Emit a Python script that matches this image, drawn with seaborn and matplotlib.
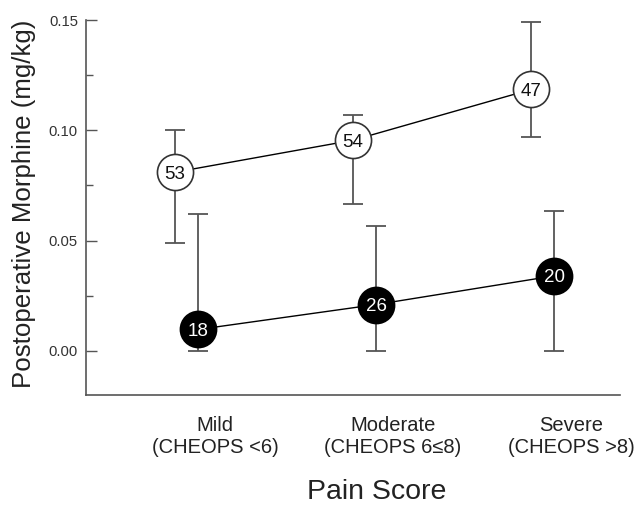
import matplotlib
matplotlib.use("Agg")
import matplotlib.pyplot as plt
import numpy as np
import pandas as pd
import seaborn as sns
from matplotlib.ticker import MultipleLocator

# Pain score categories
categories = ["Mild", "Moderate", "Severe"]
tick_labels = ["Mild\n(CHEOPS <6)", "Moderate\n(CHEOPS 6\u22648)", "Severe\n(CHEOPS >8)"]

# Open-circle group
open_mean = [0.081, 0.0955, 0.1185]
open_upper = [0.100, 0.107, 0.149]
open_lower = [0.049, 0.0667, 0.097]
open_n = [53, 54, 47]

# Filled-circle group
filled_mean = [0.0097, 0.021, 0.034]
filled_upper = [0.062, 0.0567, 0.0636]
filled_lower = [0.0, 0.0, 0.0]
filled_n = [18, 26, 20]

sns.set_theme(style="ticks")
plt.rcParams["font.family"] = ["Liberation Sans", "DejaVu Sans"]

GRAY = "#555555"
TEXT = "#222222"

pos = np.arange(len(categories))
shift = 0.0646

df = pd.concat([
    pd.DataFrame({"x": pos - shift, "y": open_mean, "lo": open_lower,
                  "hi": open_upper, "n": open_n, "group": "open"}),
    pd.DataFrame({"x": pos + shift, "y": filled_mean, "lo": filled_lower,
                  "hi": filled_upper, "n": filled_n, "group": "filled"}),
], ignore_index=True)

fig = plt.figure(figsize=(6.42, 5.08), dpi=100)
ax = fig.add_axes([86 / 642, 1 - 395 / 508, 534 / 642, 375 / 508])

styles = {"open": dict(face="white", edge="#333333", txt="#111111"),
          "filled": dict(face="black", edge="black", txt="white")}

for g, sub in df.groupby("group", sort=False):
    st = styles[g]
    # asymmetric error bars
    ax.errorbar(sub["x"], sub["y"],
                yerr=[sub["y"] - sub["lo"], sub["hi"] - sub["y"]],
                fmt="none", ecolor=GRAY, elinewidth=1.3, capsize=7.5,
                capthick=1.3, zorder=1)
    sns.lineplot(data=sub, x="x", y="y", ax=ax, color="black", linewidth=1.0,
                 sort=False, zorder=2, legend=False)
    sns.scatterplot(data=sub, x="x", y="y", ax=ax, s=26 ** 2, color=st["face"],
                    edgecolor=st["edge"], linewidth=1.2, zorder=3, legend=False)
    for _, r in sub.iterrows():
        ax.text(r["x"], r["y"], f"{int(r['n'])}", ha="center", va="center_baseline",
                fontsize=13.5, color=st["txt"], zorder=4)

ax.set_xlim(-0.5646, 2.435)
ax.set_ylim(-0.02, 0.15)
ax.yaxis.set_major_locator(MultipleLocator(0.05))
ax.yaxis.set_minor_locator(MultipleLocator(0.025))
ax.set_yticks([0.0, 0.05, 0.10, 0.15])
ax.set_yticklabels(["0.00", "0.05", "0.10", "0.15"])
ax.set_xticks(pos + 0.16)
ax.set_xticklabels(tick_labels, fontsize=14.5, color=TEXT, linespacing=1.2)

ax.tick_params(axis="y", which="major", direction="in", length=7.7, width=1.0,
               color=GRAY, labelsize=10.7, labelcolor="#333333", pad=5.8)
ax.tick_params(axis="y", which="minor", direction="in", length=5.3, width=1.0,
               color=GRAY)
ax.tick_params(axis="x", length=0, pad=15)

for side in ("top", "right"):
    ax.spines[side].set_visible(False)
for side in ("left", "bottom"):
    ax.spines[side].set_color(GRAY)
    ax.spines[side].set_linewidth(1.2)

ax.set_xlabel("Pain Score", fontsize=20.5, color=TEXT)
ax.xaxis.set_label_coords((377 - 86) / 534, -0.225)
ax.xaxis.label.set_va("top")
ax.set_ylabel("Postoperative Morphine (mg/kg)", fontsize=18.6, color=TEXT)
ax.yaxis.set_label_coords((36 - 86) / 534, (395 - 204) / 375)

fig.savefig("out.png", dpi=100)
